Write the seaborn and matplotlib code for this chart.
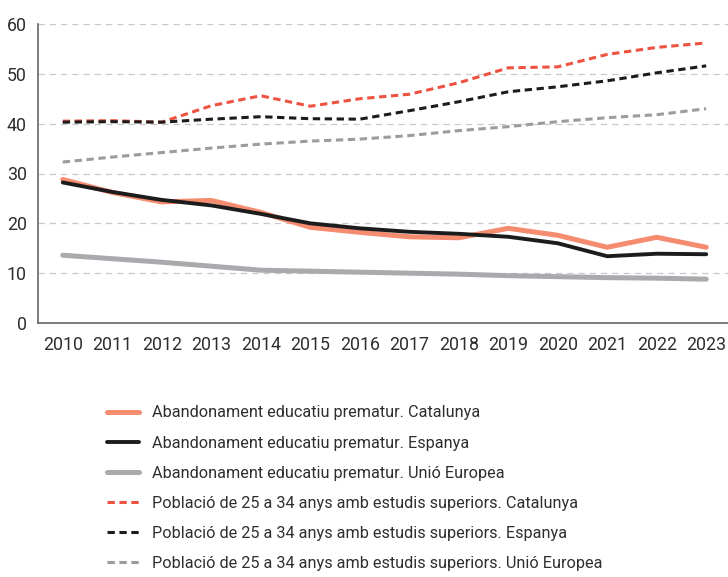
# Import Libraries
import matplotlib.pyplot as plt
import pandas as pd
import seaborn as sns

# Data (percent)
years = list(range(2010, 2024))
abandon_cat = [28.8, 26.2, 24.3, 24.6, 22.2, 19.2, 18.2, 17.3, 17.1, 19.0, 17.6, 15.2, 17.2, 15.2]
abandon_esp = [28.2, 26.3, 24.7, 23.6, 21.9, 20.0, 19.0, 18.3, 17.9, 17.3, 16.0, 13.4, 13.9, 13.8]
abandon_ue = [13.6, 12.9, 12.2, 11.4, 10.6, 10.4, 10.2, 10.0, 9.8, 9.5, 9.3, 9.1, 9.0, 8.8]
superiors_cat = [40.5, 40.6, 40.3, 43.6, 45.6, 43.5, 45.0, 45.9, 48.2, 51.2, 51.4, 53.9, 55.3, 56.2]
superiors_esp = [40.3, 40.4, 40.3, 40.9, 41.4, 41.0, 40.9, 42.6, 44.4, 46.4, 47.4, 48.6, 50.2, 51.6]
superiors_ue = [32.3, 33.3, 34.2, 35.1, 35.9, 36.5, 36.9, 37.6, 38.6, 39.4, 40.4, 41.2, 41.8, 43.0]

labels = [
    "Abandonament educatiu prematur. Catalunya",
    "Abandonament educatiu prematur. Espanya",
    "Abandonament educatiu prematur. Unió Europea",
    "Població de 25 a 34 anys amb estudis superiors. Catalunya",
    "Població de 25 a 34 anys amb estudis superiors. Espanya",
    "Població de 25 a 34 anys amb estudis superiors. Unió Europea",
]
series = [abandon_cat, abandon_esp, abandon_ue, superiors_cat, superiors_esp, superiors_ue]

# Style for each line: colour, width, dashed or not
styles = [
    ("#F58B6F", 3.6, False),
    ("#1C1C1C", 2.8, False),
    ("#A9A9AE", 3.6, False),
    ("#EE5341", 2.2, True),
    ("#1C1C1C", 2.2, True),
    ("#9C9CA0", 2.2, True),
]

sns.set_theme(style="white")
plt.rcParams["font.family"] = ["Roboto", "DejaVu Sans"]

fig = plt.figure(figsize=(7.28, 5.77), dpi=100)
ax = fig.add_axes([38 / 728, 1 - 323 / 577, 1 - 38 / 728, (323 - 24) / 577])

for values, label, (color, lw, dashed) in zip(series, labels, styles):
    df = pd.DataFrame({"year": years, "value": values})
    sns.lineplot(data=df, x="year", y="value", ax=ax, color=color, linewidth=lw, label=label)
    ln = ax.lines[-1]
    ln.set_solid_capstyle("round")
    ln.set_solid_joinstyle("round")
    if dashed:
        ln.set_linestyle((0, (2.4, 1.5)))
        ln.set_dash_capstyle("butt")

# Axes limits and ticks: categories centred between tick marks
ax.set_xlim(2009.5, 2023.44)
ax.set_ylim(0, 60)
ax.set_xticks([y - 0.5 for y in years])
ax.set_xticklabels([])
ax.set_xticks(years, minor=True)
ax.set_xticklabels([str(y) for y in years], minor=True)
ax.tick_params(axis="x", which="minor", length=0, pad=9, labelsize=12.8, colors="#2E2E2E")
ax.tick_params(axis="x", which="major", length=5, width=1, color="#555555", direction="out")
ax.set_yticks(range(0, 61, 10))
ax.tick_params(axis="y", length=5, width=1, color="#555555", labelsize=12.8, labelcolor="#2E2E2E", pad=3)
ax.set_xlabel("")
ax.set_ylabel("")

# Grid and spines
ax.yaxis.grid(True, linestyle=(0, (5, 4)), color="#C8C8C8", linewidth=0.9)
ax.set_axisbelow(True)
for side in ["top", "right"]:
    ax.spines[side].set_visible(False)
for side in ["left", "bottom"]:
    ax.spines[side].set_color("#666666")
    ax.spines[side].set_linewidth(1.2)

# Legend below the plot
handles, leg_labels = ax.get_legend_handles_labels()
ax.get_legend().remove()
fig.legend(
    handles,
    leg_labels,
    loc="upper left",
    bbox_to_anchor=(100 / 728, 1 - 399 / 577),
    frameon=False,
    fontsize=11.7,
    handlelength=2.0,
    handletextpad=0.8,
    labelspacing=0.93,
    borderaxespad=0,
    labelcolor="#2E2E2E",
)

fig.savefig("out.png", dpi=100)
